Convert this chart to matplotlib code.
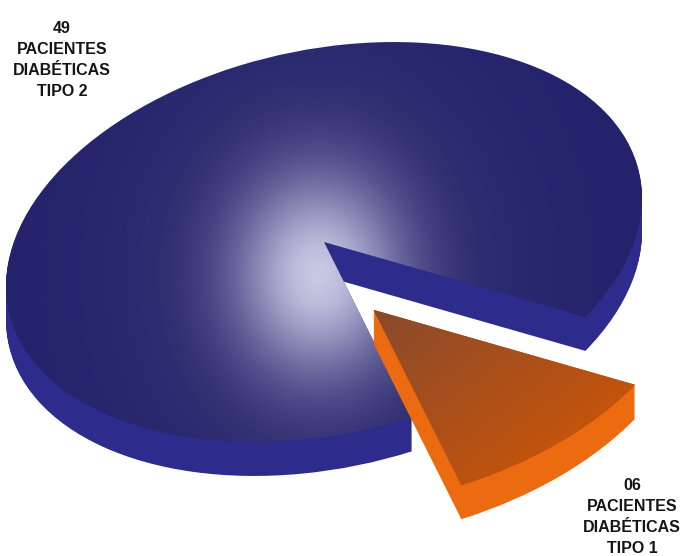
import numpy as np
import matplotlib
matplotlib.use("Agg")
import matplotlib.pyplot as plt
from matplotlib.transforms import Affine2D

# ---- data ----
values = [49, 6]
labels = ["49\nPACIENTES\nDIABÉTICAS\nTIPO 2", "06\nPACIENTES\nDIABÉTICAS\nTIPO 1"]
top_colors = ["#24226a", "#b04e12"]
side_colors = ["#2d2b8c", "#ec6a10"]
explode = [0.0, 0.30]

W, H = 686, 556
fig = plt.figure(figsize=(W / 100, H / 100), dpi=100)
ax = fig.add_axes([0, 0, 1, 1])

# oblique view of the pie (pixel units, y up)
M = np.array([[261.4, 181.0, 0.0], [-74.9, 185.4, 0.0], [0.0, 0.0, 1.0]])
cx, cy = 324, H - 242
depth = 34
# extra drop of the detached slice (style)
shift = [(0, 0), (-6, -28)]


def proj(dz, i):
    return Affine2D(M).translate(cx + shift[i][0], cy - dz + shift[i][1]) + ax.transData


# side extrusion
for k in range(depth, 0, -1):
    wedges, _ = ax.pie(values, startangle=0, counterclock=True, explode=explode,
                       colors=side_colors, wedgeprops=dict(linewidth=0))
    for i, w in enumerate(wedges):
        w.set_transform(proj(k, i))
        w.set_zorder(1 if i == 0 else 3)

# top faces
tops, _ = ax.pie(values, startangle=0, counterclock=True, explode=explode,
                 colors=top_colors, wedgeprops=dict(linewidth=0))
for i, w in enumerate(tops):
    w.set_transform(proj(0, i))
    w.set_zorder(2 if i == 0 else 4)

# glow on blue top
yy, xx = np.mgrid[0:H, 0:W]
gx, gy = 318, H - 275
d2 = ((xx - gx) / 125.0) ** 2 + ((yy - gy) / 150.0) ** 2
alpha = 0.80 * np.exp(-d2 * 2.3) + 0.10 * np.exp(-d2 * 0.45)
img = np.zeros((H, W, 4))
img[..., 0] = 0.86
img[..., 1] = 0.86
img[..., 2] = 0.95
img[..., 3] = np.clip(alpha, 0, 1)
im = ax.imshow(img, extent=[0, W, 0, H], origin="lower", zorder=2.5, interpolation="bilinear")
im.set_clip_path(tops[0])

# gradient on orange top
t = np.clip(((xx - 375) * 0.6 + (H - 315 - yy) * 0.8) / 220.0, 0, 1)
og = np.zeros((H, W, 4))
c0 = np.array(matplotlib.colors.to_rgb("#8a4a2c"))
c1 = np.array(matplotlib.colors.to_rgb("#c4540c"))
for ch in range(3):
    og[..., ch] = c0[ch] * (1 - t) + c1[ch] * t
og[..., 3] = 1.0
im2 = ax.imshow(og, extent=[0, W, 0, H], origin="lower", zorder=4.5, interpolation="bilinear")
im2.set_clip_path(tops[1])

# labels
fam = ["Liberation Sans", "DejaVu Sans"]
ax.text(62, H - 60, labels[0], ha="center", va="center", fontsize=11.5,
        fontweight="bold", family=fam, color="#151515", linespacing=1.5, zorder=6)
ax.text(632, H - 517, labels[1], ha="center", va="center", fontsize=11.5,
        fontweight="bold", family=fam, color="#151515", linespacing=1.5, zorder=6)

ax.set_xlim(0, W)
ax.set_ylim(0, H)
ax.set_aspect("auto")
ax.axis("off")
fig.savefig("out.png", dpi=100)
